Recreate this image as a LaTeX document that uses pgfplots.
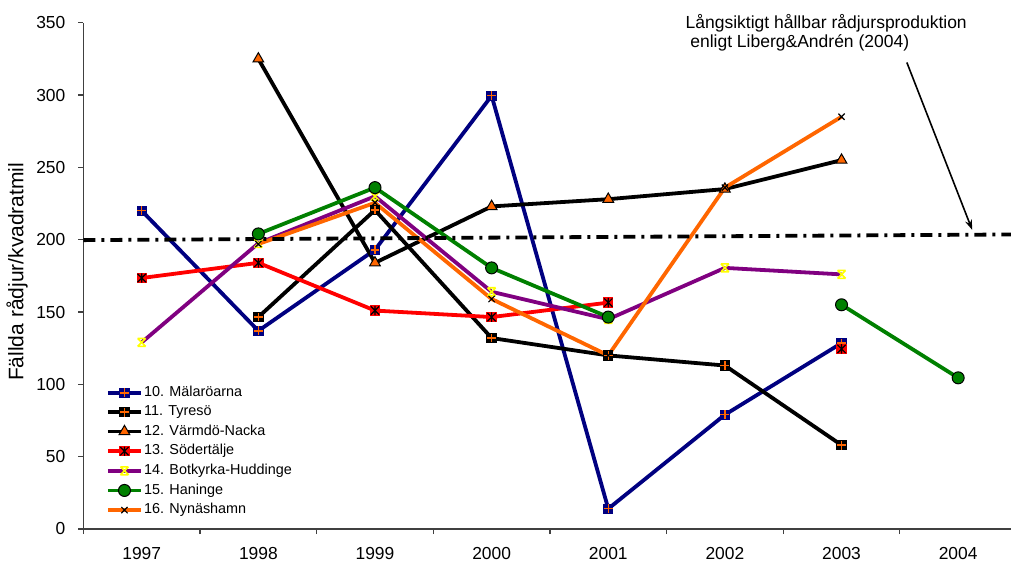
\documentclass[border=0pt]{standalone}
\usepackage{fontspec}
\setmainfont{Liberation Sans}
\usepackage{pgfplots}
\pgfplotsset{compat=1.18}
\usetikzlibrary{arrows.meta}

\definecolor{xlNavy}{RGB}{0,0,128}
\definecolor{xlRed}{RGB}{255,0,0}
\definecolor{xlPurple}{RGB}{128,0,128}
\definecolor{xlGreen}{RGB}{0,128,0}
\definecolor{xlOrange}{RGB}{255,102,0}
\definecolor{xlYellow}{RGB}{255,255,0}

% filled square (fill colour) with a plus (draw colour)
\pgfdeclareplotmark{sqplus}{%
  \pgfpathrectangle{\pgfqpoint{-\pgfplotmarksize}{-\pgfplotmarksize}}{\pgfqpoint{2\pgfplotmarksize}{2\pgfplotmarksize}}%
  \pgfusepathqfill
  \pgfpathmoveto{\pgfqpoint{-0.85\pgfplotmarksize}{0pt}}%
  \pgfpathlineto{\pgfqpoint{0.85\pgfplotmarksize}{0pt}}%
  \pgfpathmoveto{\pgfqpoint{0pt}{-0.85\pgfplotmarksize}}%
  \pgfpathlineto{\pgfqpoint{0pt}{0.85\pgfplotmarksize}}%
  \pgfusepathqstroke}
% filled square with an asterisk
\pgfdeclareplotmark{sqast}{%
  \pgfpathrectangle{\pgfqpoint{-\pgfplotmarksize}{-\pgfplotmarksize}}{\pgfqpoint{2\pgfplotmarksize}{2\pgfplotmarksize}}%
  \pgfusepathqfill
  \pgfpathmoveto{\pgfqpoint{-0.8\pgfplotmarksize}{-0.8\pgfplotmarksize}}%
  \pgfpathlineto{\pgfqpoint{0.8\pgfplotmarksize}{0.8\pgfplotmarksize}}%
  \pgfpathmoveto{\pgfqpoint{-0.8\pgfplotmarksize}{0.8\pgfplotmarksize}}%
  \pgfpathlineto{\pgfqpoint{0.8\pgfplotmarksize}{-0.8\pgfplotmarksize}}%
  \pgfpathmoveto{\pgfqpoint{0pt}{-0.9\pgfplotmarksize}}%
  \pgfpathlineto{\pgfqpoint{0pt}{0.9\pgfplotmarksize}}%
  \pgfusepathqstroke}
% x with bars top and bottom
\pgfdeclareplotmark{barx}{%
  \pgfpathmoveto{\pgfqpoint{-\pgfplotmarksize}{-\pgfplotmarksize}}%
  \pgfpathlineto{\pgfqpoint{\pgfplotmarksize}{\pgfplotmarksize}}%
  \pgfpathmoveto{\pgfqpoint{-\pgfplotmarksize}{\pgfplotmarksize}}%
  \pgfpathlineto{\pgfqpoint{\pgfplotmarksize}{-\pgfplotmarksize}}%
  \pgfpathmoveto{\pgfqpoint{-\pgfplotmarksize}{\pgfplotmarksize}}%
  \pgfpathlineto{\pgfqpoint{\pgfplotmarksize}{\pgfplotmarksize}}%
  \pgfpathmoveto{\pgfqpoint{-\pgfplotmarksize}{-\pgfplotmarksize}}%
  \pgfpathlineto{\pgfqpoint{\pgfplotmarksize}{-\pgfplotmarksize}}%
  \pgfusepathqstroke}

\begin{document}
\begin{tikzpicture}
\useasboundingbox (-41.7pt,-16.5pt) rectangle (463.8pt,264.5pt);
\begin{axis}[
    at={(0,0)}, anchor=south west,
    scale only axis,
    width=463.8pt, height=253.15pt,
    xmin=-0.5, xmax=7.453,
    ymin=0, ymax=350,
    clip=false,
    axis x line*=bottom, axis y line*=left,
    axis line style={-, black!75, line width=0.6pt},
    tick style={black!75, line width=0.6pt},
    tick align=outside,
    xtick={0,1,2,3,4,5,6,7},
    xticklabels={1997,1998,1999,2000,2001,2002,2003,2004},
    major x tick style={draw=none},
    minor xtick={-0.5,0.5,1.5,2.5,3.5,4.5,5.5,6.5},
    minor tick length=2.5pt,
    ytick={0,50,...,350},
    major tick length=2.5pt,
    /pgf/number format/assume math mode=true,
    tick label style={font=\fontsize{8.7}{10}\selectfont},
    xticklabel style={yshift=-3.3pt},
    yticklabel style={xshift=-3pt},
    ylabel={Fällda rådjur/kvadratmil},
    every axis y label/.style={at={(axis description cs:-0.0716,0.508)}, rotate=90, anchor=center, font=\fontsize{10.5}{12}\selectfont},
    unbounded coords=jump,
    every axis plot/.append style={line width=1.9pt},
    legend style={at={(axis description cs:0.024,0.287)}, anchor=north west,
        draw=none, fill=none, inner sep=0pt, row sep=1.1pt,
        nodes={inner xsep=0.6pt, inner ysep=1pt},
        font=\fontsize{7.2}{8}\selectfont, cells={anchor=west}},
    legend image code/.code={\draw[mark repeat=2,mark phase=2] plot coordinates {(0pt,0pt) (8.25pt,0pt) (16.5pt,0pt)};},
]
% 10. Mälaröarna
\addplot[xlNavy, mark=sqplus, mark size=2.6pt, mark options={solid, fill=xlNavy, draw=xlOrange, line width=0.7pt}]
  coordinates {(0,220) (1,137) (2,193) (3,299.5) (4,14) (5,79) (6,128.5)};
% 11. Tyresö
\addplot[black, mark=sqplus, mark size=2.6pt, mark options={solid, fill=black, draw=xlOrange, line width=0.7pt}]
  coordinates {(1,146.5) (2,220.5) (3,132) (4,120) (5,113) (6,58)};
% 12. Värmdö-Nacka
\addplot[black, mark=triangle*, mark size=3.1pt, mark options={solid, fill=xlOrange, draw=black, line width=0.5pt}]
  coordinates {(1,325) (2,184) (3,223) (4,228) (5,235) (6,255)};
% 13. Södertälje
\addplot[xlRed, mark=sqast, mark size=2.6pt, mark options={solid, fill=xlRed, draw=black, line width=0.6pt}]
  coordinates {(0,173.5) (1,184) (2,151) (3,146.5) (4,156.5) (5,nan) (6,124.5)};
% 14. Botkyrka-Huddinge
\addplot[xlPurple, mark=barx, mark size=2pt, mark options={solid, draw=xlYellow, line width=0.8pt}]
  coordinates {(0,129) (1,197.5) (2,230) (3,164) (4,145) (5,180.5) (6,176)};
% 15. Haninge
\addplot[xlGreen, mark=*, mark size=3pt, mark options={solid, fill=xlGreen, draw=black, line width=0.5pt}]
  coordinates {(1,204) (2,236) (3,180.5) (4,146.5) (5,nan) (6,155) (7,104.5)};
% 16. Nynäshamn
\addplot[xlOrange, mark=x, mark size=2.2pt, mark options={solid, draw=black, line width=0.6pt}]
  coordinates {(1,197) (2,225.5) (3,159) (4,120) (5,236) (6,285)};
% long-term sustainable level
\addplot[black, line width=1.9pt, dash pattern=on 6pt off 3pt on 1.5pt off 3pt, forget plot]
  coordinates {(-0.5,199.7) (7.453,203.6)};
\legend{10. Mälaröarna, 11. Tyresö, 12. Värmdö-Nacka, 13. Södertälje, 14. Botkyrka-Huddinge, 15. Haninge, 16. Nynäshamn}

\node[anchor=base west, inner sep=0pt, font=\fontsize{8.75}{10}\selectfont] at (axis cs:4.66,346.3) {Långsiktigt hållbar rådjursproduktion};
\node[anchor=base west, inner sep=0pt, font=\fontsize{8.75}{10}\selectfont] at (axis cs:4.70,333) {enligt Liberg\&Andrén (2004)};
\draw[-{Stealth[length=5pt,width=3.5pt]}, line width=0.8pt] (axis cs:6.56,322.5) -- (axis cs:7.12,206.8);
\end{axis}
\end{tikzpicture}
\end{document}
